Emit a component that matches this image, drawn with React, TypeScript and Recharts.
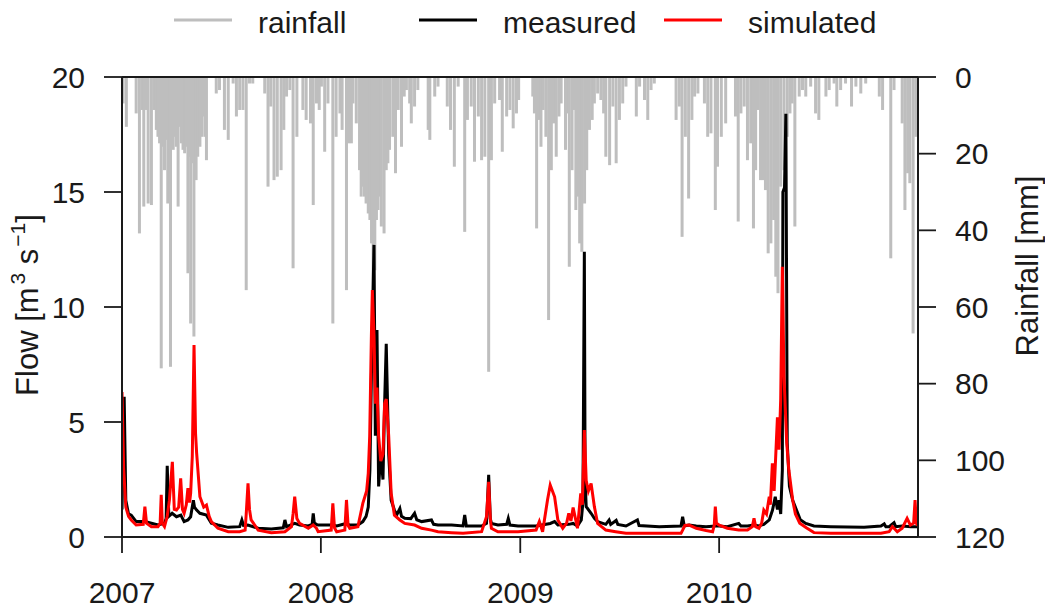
import React from "react";
import { ComposedChart, Bar, Line, XAxis, YAxis, ReferenceLine } from "recharts";

// days are counted from 1 Jan 2007
const yearLabels = ["2007", "2008", "2009", "2010"];
const yearStartDays = [0, 365, 731, 1096];
const lastDay = 1461;
const flowTicks = [0, 5, 10, 15, 20];
const rainTicks = [0, 20, 40, 60, 80, 100, 120];

const rainDays = [
  2, 8, 26, 32, 37, 40, 45, 48, 54, 59, 63, 66, 69, 72, 75, 78, 81, 84, 87, 89, 94, 97, 100, 103, 106, 109, 112, 115,
  118, 121, 124, 126, 129, 132, 136, 139, 143, 146, 149, 152, 155, 173, 179, 188, 195, 204, 210, 216, 222, 228, 234,
  240, 262, 268, 273, 279, 285, 292, 297, 302, 308, 314, 321, 332, 338, 346, 351, 357,
  362, 366, 372, 378, 387, 393, 400, 404, 412, 416, 421, 424, 430, 436, 439, 442, 445, 448, 452, 455, 458, 461, 464,
  467, 470, 473, 476, 481, 485, 488, 491, 497, 502, 507, 513, 518, 522, 528, 531, 537, 543, 562, 565, 574, 580, 597,
  603, 610, 617, 629, 634, 641, 647, 654, 660, 666, 673, 678, 684, 693, 698, 706, 712, 718, 724,
  728, 754, 757, 761, 766, 769, 773, 778, 783, 788, 792, 797, 802, 806, 814, 818, 821, 826, 830, 833, 836, 840, 844,
  849, 853, 858, 863, 867, 873, 879, 884, 888, 895, 901, 907, 913, 919, 925, 944, 950, 959, 965, 971, 977, 1017, 1023,
  1028, 1034, 1040, 1046, 1051, 1057, 1069, 1075, 1081, 1089,
  1093, 1100, 1108, 1126, 1131, 1136, 1142, 1148, 1154, 1159, 1163, 1167, 1172, 1177, 1181, 1186, 1191, 1196, 1200,
  1204, 1209, 1215, 1221, 1226, 1230, 1235, 1243, 1249, 1255, 1264, 1273, 1279, 1292, 1298, 1307, 1312, 1319, 1328,
  1339, 1347, 1356, 1365, 1390, 1396, 1411, 1417, 1432, 1437, 1442, 1446, 1452, 1457,
];
const rainMm = [
  6.9, 13, 9.5, 40.8, 8.6, 33.8, 8.6, 33, 33.4, 8.6, 13.8, 15.6, 17.3, 76, 18.2, 24.3, 16.4, 33, 19, 75.6, 19, 15.6,
  18.2, 33.8, 13, 17.3, 19, 19.9, 18.2, 51.2, 20.8, 64.3, 22.5, 67.7, 26.9, 20.8, 18.2, 15.6, 10.3, 15.6, 21.7, 4.3,
  3.4, 13.8, 16.4, 1.7, 10.3, 8.6, 8.6, 55.6, 1.7, 1.7, 4.3, 28.6, 7.7, 26.9, 26, 24.3, 13.8, 5.1, 3.4, 49.9, 15.6,
  8.6, 11.2, 12.1, 33.4, 6.9,
  8.6, 2.5, 19.5, 6.9, 64.3, 15.6, 9.5, 13.8, 55.6, 17.3, 17.3, 6.9, 12.1, 24.3, 31.2, 28.6, 31.2, 33, 35.6, 37.3,
  43.4, 57.3, 50.4, 37.3, 34.7, 31.2, 39, 40.8, 24.3, 22.5, 19, 15.6, 25.1, 8.6, 18.2, 5.1, 3.4, 6.9, 12.1, 7.7, 3.4,
  13.8, 16.4, 5.1, 2.5, 7.7, 13.8, 23.4, 2.5, 40.4, 11.2, 7.7, 22.1, 10.3, 21.7, 20.8, 76.9, 21.7, 6.9, 6, 19.5,
  10.3, 8.6, 13.4, 9.5,
  6, 5.1, 9.5, 39.5, 11.2, 18.2, 8.6, 15.6, 63.4, 24.3, 12.1, 20.8, 10.3, 6.9, 19, 9.5, 49.5, 24.3, 8.6, 34.7, 31.2,
  43.4, 45.6, 33, 24.3, 13.8, 11.2, 6.9, 4.3, 6, 9.5, 20.8, 23, 7.7, 22.5, 11.2, 6.9, 2.5, 10.3, 2.5, 6, 11.2, 3.4,
  1.7, 11.2, 7.7, 41.7, 15.6, 31.7, 11.2, 5.1, 4.3, 6.9, 15.6, 14.7, 34.7,
  23.4, 15.6, 12.1, 10.3, 37.7, 9.5, 7.7, 21.7, 17.3, 39.5, 24.3, 8.6, 26.9, 26.9, 29.5, 46, 43.4, 37.3, 52.1, 56.4,
  28.6, 24.3, 15.6, 9.5, 6.9, 39, 5.1, 3.4, 5.1, 2.5, 9.5, 11.2, 5.1, 3.4, 1.7, 7.7, 3.4, 1.7, 7.7, 2.5, 4.3, 1.7,
  5.1, 8.6, 47.3, 3.4, 12.1, 34.7, 25.1, 27.7, 66.9, 15.6,
];

const measuredDays = [
  0, 4, 7, 12, 17, 26, 42, 54, 66, 78, 81, 83, 86, 92, 100, 108, 114, 121, 126, 131, 133, 137, 143, 155, 164, 176,
  195, 216, 220, 223, 231, 250, 274, 296, 299, 302, 317, 326, 342, 349, 351, 353, 357,
  360, 387, 394, 412, 418, 433, 442, 448, 452, 455, 458, 462.5, 465, 468, 471, 475, 479, 482, 485, 489.5, 494, 500,
  504, 510, 513, 519, 530, 537, 541, 550, 568, 572, 580, 605, 626, 629, 632, 660, 669, 673, 676, 678, 690, 706, 709,
  712, 727,
  760, 786, 794, 800, 820, 828, 836, 843, 846, 848.6, 850, 852, 861, 867, 873, 888, 894, 897, 907, 910, 925, 946, 949,
  986, 1026, 1029, 1032, 1041, 1054, 1072, 1089,
  1096, 1111, 1132, 1136, 1148, 1160, 1169, 1178, 1188, 1194, 1199, 1203, 1206, 1209, 1212, 1213, 1216, 1218.5, 1221,
  1225, 1231, 1238, 1245, 1255, 1270, 1301, 1362, 1393, 1399, 1402, 1408, 1417, 1420, 1432, 1448, 1460,
];
const measuredFlow = [
  1.2, 6.1, 1.6, 1.0, 0.95, 0.67, 0.67, 0.6, 0.52, 0.6, 0.8, 3.1, 0.9, 1.03, 0.88, 0.95, 0.67, 0.74, 0.88, 1.6, 1.3,
  1.17, 1.03, 0.95, 0.6, 0.52, 0.42, 0.45, 0.74, 0.5, 0.52, 0.38, 0.35, 0.4, 0.74, 0.45, 0.59, 0.52, 0.48, 0.55,
  1.03, 0.6, 0.55,
  0.52, 0.52, 0.48, 0.59, 0.52, 0.52, 0.67, 0.9, 1.3, 2.9, 7.3, 12.7, 4.4, 9.0, 2.2, 3.6, 2.5, 5.8, 8.4, 3.6, 1.6,
  1.17, 0.95, 1.24, 0.9, 0.81, 0.8, 1.03, 0.75, 0.67, 0.74, 0.55, 0.52, 0.52, 0.48, 0.96, 0.48, 0.48, 0.59, 2.7, 0.8,
  0.59, 0.52, 0.55, 0.81, 0.52, 0.48,
  0.48, 0.59, 0.67, 0.52, 0.55, 0.59, 0.48, 0.74, 1.5, 12.4, 2.5, 1.32, 1.03, 0.81, 0.67, 0.55, 0.74, 0.55, 0.72,
  0.55, 0.48, 0.74, 0.5, 0.45, 0.48, 0.88, 0.48, 0.52, 0.48, 0.45, 0.48,
  0.48, 0.45, 0.59, 0.48, 0.48, 0.52, 0.48, 0.55, 0.74, 1.17, 1.75, 1.2, 1.6, 1.0, 2.9, 15.0, 15.2, 18.4, 4.1, 2.2,
  1.6, 1.17, 0.75, 0.59, 0.48, 0.45, 0.42, 0.48, 0.57, 0.45, 0.45, 0.62, 0.45, 0.48, 0.45, 0.45,
];

const simulatedDays = [
  0, 3, 7, 12, 17, 26, 39, 42, 45, 54, 66, 70, 72, 74, 78, 83, 87, 92.4, 96, 100, 104, 107.7, 111, 114, 118, 121, 124,
  126, 129, 132.2, 135, 137, 143, 150, 155, 160, 164, 176, 195, 216, 226, 228, 231.3, 234, 237, 250, 274, 299, 311,
  314, 317, 321, 326, 342, 351, 357,
  360, 384, 387, 390, 394, 409, 412, 415, 418, 433, 442, 449, 452, 454.6, 457.7, 459.5, 462.6, 465, 468, 471, 475,
  479, 482, 485, 489.5, 494, 500, 510, 519, 537, 550, 568, 580, 605, 626, 660, 669, 673, 676, 678, 690, 727,
  760, 766, 772, 781, 786, 794, 800, 809, 816, 820, 824, 828, 836, 842, 845, 848.6, 852, 856, 861, 867, 873, 888, 906,
  925, 986, 1026, 1029, 1033, 1041, 1054, 1072, 1084, 1087, 1089, 1091,
  1096, 1111, 1132, 1148, 1157, 1160, 1163, 1169, 1174, 1178, 1183, 1188, 1190, 1193.7, 1197, 1203, 1206, 1209, 1212,
  1215, 1220, 1224, 1231, 1236, 1244, 1256, 1270, 1301, 1362, 1393, 1408, 1414, 1417, 1423, 1432, 1441, 1447, 1453,
  1455.6, 1458, 1460,
];
const simulatedFlow = [
  6.3, 3.0, 1.3, 0.9, 0.74, 0.52, 0.55, 1.32, 0.6, 0.45, 0.45, 0.6, 1.83, 0.6, 0.45, 0.9, 1.6, 3.27, 1.2, 1.17, 1.3,
  2.55, 1.2, 1.03, 1.4, 2.12, 1.5, 1.9, 3.5, 8.35, 4.5, 3.65, 1.75, 1.3, 1.39, 0.9, 0.67, 0.38, 0.23, 0.23, 0.3, 1.0,
  2.33, 1.2, 0.74, 0.3, 0.19, 0.23, 0.45, 1.0, 1.75, 0.8, 0.59, 0.38, 0.52, 0.38,
  0.23, 0.3, 1.46, 0.4, 0.23, 0.3, 1.61, 0.5, 0.38, 0.45, 1.46, 2.0, 2.77, 4.36, 8.7, 10.74, 8.7, 5.8, 6.5, 4.4, 3.3,
  3.6, 5.8, 6.0, 4.4, 1.9, 0.95, 0.74, 0.59, 0.52, 0.38, 0.3, 0.23, 0.19, 0.16, 0.23, 0.88, 2.4, 0.8, 0.38, 0.23,
  0.23,
  0.3, 0.67, 0.23, 1.61, 2.26, 1.75, 0.74, 0.38, 0.6, 1.03, 0.7, 1.28, 0.38, 1.9, 1.4, 4.65, 2.45, 2.0, 2.33, 1.32,
  0.59, 0.3, 0.23, 0.16, 0.16, 0.16, 0.3, 0.5, 0.52, 0.38, 0.28, 0.23, 0.5, 1.32, 0.6,
  0.52, 0.38, 0.3, 0.3, 0.45, 0.81, 0.45, 0.38, 0.6, 1.17, 1.0, 1.75, 1.4, 3.2, 2.0, 5.2, 3.8, 6.0, 11.75, 7.0, 4.1,
  2.9, 1.6, 1.0, 0.6, 0.4, 0.19, 0.16, 0.16, 0.16, 0.23, 0.45, 0.38, 0.23, 0.38, 0.81, 0.52, 0.6, 1.6, 0.6, 0.5,
];

type Row = { day: number; rain?: number; measured?: number; simulated?: number };

function buildRows(): Row[] {
  const rows = new Map<number, Row>();
  const at = (d: number) => {
    let r = rows.get(d);
    if (!r) {
      r = { day: d };
      rows.set(d, r);
    }
    return r;
  };
  rainDays.forEach((d, i) => (at(d).rain = rainMm[i]));
  measuredDays.forEach((d, i) => (at(d).measured = measuredFlow[i]));
  simulatedDays.forEach((d, i) => (at(d).simulated = simulatedFlow[i]));
  return Array.from(rows.values()).sort((a, b) => a.day - b.day);
}

const data = buildRows();

const font = "'Liberation Sans', Arial, Helvetica, sans-serif";
const ink = "#1a1a1a";
const rainGrey = "#bebebe";
const tickStyle = { fill: ink, fontSize: 30, fontFamily: font };
const titleSize = 31;

// hang each rain bar from the top of the reversed axis, fixed thin width
const RainBar = (props: any) => {
  const { x, y, width, height, payload } = props;
  if (!payload || payload.rain == null || !isFinite(y)) return null;
  const top = Math.min(y, y + height);
  const cx = x + width / 2;
  return <rect x={cx - 1.5} y={top} width={3} height={Math.abs(height)} fill={rainGrey} />;
};

const FlowTitle = () => (
  <text x={27} y={305} transform="rotate(-90 27 305)" textAnchor="middle" dominantBaseline="central"
    fill={ink} fontSize={titleSize} fontFamily={font}>
    Flow [m
    <tspan dx={3} dy={-10} fontSize={21}>3</tspan>
    <tspan dy={10}>{" s"}</tspan>
    <tspan dx={2} dy={-10} fontSize={21}>−1</tspan>
    <tspan dy={10}>]</tspan>
  </text>
);

const RainTitle = () => (
  <text x={1027} y={266} transform="rotate(-90 1027 266)" textAnchor="middle" dominantBaseline="central"
    fill={ink} fontSize={titleSize} fontFamily={font}>
    Rainfall [mm]
  </text>
);

const legendItems = [
  { label: "rainfall", color: rainGrey, x: 174 },
  { label: "measured", color: "#000000", x: 419 },
  { label: "simulated", color: "#ff0000", x: 664 },
];

export default function App() {
  return (
    <div style={{ position: "absolute", left: 0, top: 0, width: 1045, height: 608, background: "#fff", fontFamily: font }}>
      <svg width={1045} height={50} style={{ position: "absolute", left: 0, top: 0 }}>
        {legendItems.map((it) => (
          <g key={it.label}>
            <line x1={it.x} x2={it.x + 58} y1={20} y2={20} stroke={it.color} strokeWidth={3} />
            <text x={it.x + 84} y={22} dominantBaseline="central" fill={ink} fontSize={30} fontFamily={font}>
              {it.label}
            </text>
          </g>
        ))}
      </svg>
      <div style={{ position: "absolute", left: 0, top: 0 }}>
        <ComposedChart width={1045} height={608} data={data} margin={{ top: 77, right: 67, bottom: 31, left: 62 }}>
          <XAxis
            dataKey="day"
            type="number"
            domain={[0, lastDay]}
            ticks={yearStartDays}
            tickFormatter={(v: number) => yearLabels[yearStartDays.indexOf(v)] ?? ""}
            height={40}
            tick={tickStyle}
            tickSize={16}
            tickMargin={29}
            tickLine={{ stroke: ink, strokeWidth: 1.8 }}
            axisLine={{ stroke: ink, strokeWidth: 2 }}
            allowDataOverflow
          />
          <YAxis
            yAxisId="flow"
            domain={[0, 20]}
            ticks={flowTicks}
            width={60}
            tick={tickStyle}
            tickSize={18}
            tickMargin={19}
            tickLine={{ stroke: ink, strokeWidth: 1.8 }}
            axisLine={{ stroke: ink, strokeWidth: 2 }}
            label={<FlowTitle />}
          />
          <YAxis
            yAxisId="rain"
            orientation="right"
            reversed
            domain={[0, 120]}
            ticks={rainTicks}
            width={60}
            tick={{ ...tickStyle, textAnchor: "start" }}
            tickSize={18}
            tickMargin={19}
            tickLine={{ stroke: ink, strokeWidth: 1.8 }}
            axisLine={{ stroke: ink, strokeWidth: 2 }}
            label={<RainTitle />}
          />
          <Bar yAxisId="rain" dataKey="rain" barSize={3} shape={<RainBar />} isAnimationActive={false} />
          <Line
            yAxisId="flow"
            dataKey="measured"
            type="linear"
            stroke="#000000"
            strokeWidth={3}
            dot={false}
            connectNulls
            isAnimationActive={false}
          />
          <Line
            yAxisId="flow"
            dataKey="simulated"
            type="linear"
            stroke="#ff0000"
            strokeWidth={3}
            dot={false}
            connectNulls
            isAnimationActive={false}
          />
          <ReferenceLine yAxisId="flow" y={20} stroke={ink} strokeWidth={2} />
        </ComposedChart>
      </div>
    </div>
  );
}
